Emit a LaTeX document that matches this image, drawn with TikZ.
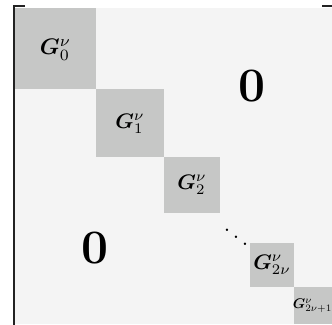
\documentclass[tikz,border=0pt]{standalone}
\usepackage{amsmath,amssymb,bm}
\begin{document}
\begin{tikzpicture}[x=1pt,y=-1pt,
  blk/.style={fill=blkgray,draw=none},
  lbl/.style={inner sep=0pt},
  zero/.style={inner sep=0pt,font=\fontsize{48}{56}\selectfont\bfseries},
  brk/.style={line width=2pt,draw=brkcol,line cap=butt}]
\definecolor{blkgray}{HTML}{C6C7C6}
\definecolor{bggray}{HTML}{F4F4F4}
\definecolor{brkcol}{HTML}{222222}
\useasboundingbox (0,0) rectangle (332,324);
\fill[white] (0,0) rectangle (332,324);
\fill[bggray] (15,8) rectangle (332,324);
% diagonal blocks
\path[blk] (15,8) rectangle (96,89);
\path[blk] (96,89) rectangle (164,157);
\path[blk] (164,157) rectangle (220,213);
\path[blk] (250,243) rectangle (294,287);
\path[blk] (294,287) rectangle (332,324);
% labels
\node[lbl] (g0) at (55.5,50) {\scalebox{2.25}{$\bm{G}_0^{\nu}$}};
\node[lbl] (g1) at (130,124) {\scalebox{2.1}{$\bm{G}_1^{\nu}$}};
\node[lbl] (g2) at (192,185) {\scalebox{2.1}{$\bm{G}_2^{\nu}$}};
\node[lbl] (g2n) at (272,265) {\scalebox{2.1}{$\bm{G}_{2\nu}^{\nu}$}};
\node[lbl] (g2n1) at (312.5,306) {\scalebox{1.4}{$\bm{G}_{2\nu+1}^{\nu}$}};
\node[lbl] (dd) at (236,230) {\scalebox{2.3}{$\ddots$}};
% zero blocks
\node[zero] (z1) at (252,86) {0};
\node[zero] (z2) at (95,248) {0};
% bracket
\draw[brk] (14,330) -- (14,6) -- (25,6);
\draw[brk] (322,6) -- (333,6);
\end{tikzpicture}
\end{document}
